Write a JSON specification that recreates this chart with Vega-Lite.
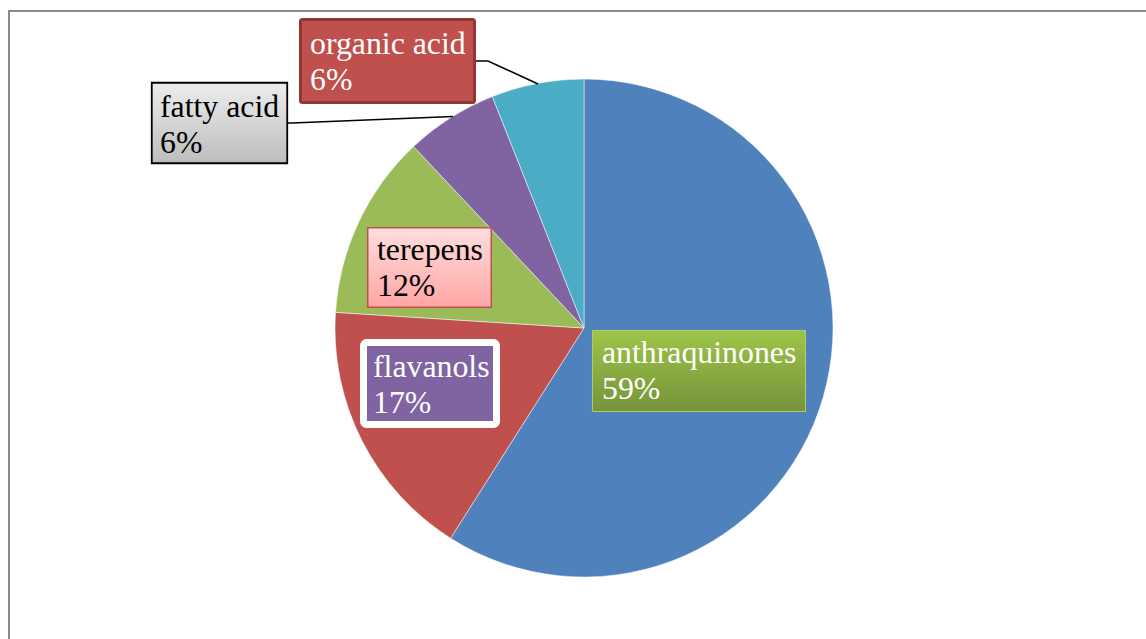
{
  "$schema": "https://vega.github.io/schema/vega-lite/v6.json",
  "width": 1150,
  "height": 634,
  "autosize": {"type": "none"},
  "padding": {"left": 9, "top": 11, "right": -13, "bottom": -6},
  "background": "white",
  "config": {"view": {"stroke": "#8a8a8a", "strokeWidth": 2}},
  "datasets": {
    "slices": [
      {"name": "anthraquinones", "share": 0.59, "ord": 1},
      {"name": "flavanols", "share": 0.17, "ord": 2},
      {"name": "terepens", "share": 0.12, "ord": 3},
      {"name": "fatty acid", "share": 0.06, "ord": 4},
      {"name": "organic acid", "share": 0.06, "ord": 5}
    ],
    "boxes": [
      {"name": "organic acid", "x0": -1.1386, "x1": -0.4398, "y0": 1.2390, "y1": 0.9056, "tx": -1.1004, "ty": 1.1004},
      {"name": "fatty acid", "x0": -1.7359, "x1": -1.1918, "y0": 0.9849, "y1": 0.6616, "tx": -1.7028, "ty": 0.8474},
      {"name": "terepens", "x0": -0.8685, "x1": -0.3725, "y0": 0.4026, "y1": 0.0833, "tx": -0.8313, "ty": 0.2731},
      {"name": "flavanols", "x0": -0.8855, "x1": -0.3514, "y0": -0.0582, "y1": -0.3876, "tx": -0.8474, "ty": -0.1968},
      {"name": "anthraquinones", "x0": 0.0341, "x1": 0.8896, "y0": -0.0100, "y1": -0.3353, "tx": 0.0723, "ty": -0.1406}
    ],
    "leaders": [
      {"name": "organic acid", "seq": 1, "lx": -0.4337, "ly": 1.0723},
      {"name": "organic acid", "seq": 2, "lx": -0.3855, "ly": 1.0723},
      {"name": "organic acid", "seq": 3, "lx": -0.1847, "ly": 0.9799},
      {"name": "fatty acid", "seq": 1, "lx": -1.1888, "ly": 0.8233},
      {"name": "fatty acid", "seq": 2, "lx": -1.1727, "ly": 0.8233},
      {"name": "fatty acid", "seq": 3, "lx": -0.5261, "ly": 0.8494}
    ]
  },
  "layer": [
    {
      "data": {"name": "slices"},
      "mark": {"type": "arc", "radius": 249, "stroke": "#ffffff", "strokeWidth": 0.7, "strokeOpacity": 0.7},
      "encoding": {
        "theta": {"field": "share", "type": "quantitative", "stack": true},
        "order": {"field": "ord", "type": "quantitative"},
        "color": {
          "field": "name", "type": "nominal", "legend": null,
          "scale": {
            "domain": ["anthraquinones", "flavanols", "terepens", "fatty acid", "organic acid"],
            "range": ["#4F81BD", "#C0504D", "#9BBB59", "#8064A2", "#4BACC6"]
          }
        }
      }
    },
    {
      "data": {"name": "leaders"},
      "mark": {"type": "line", "color": "#000000", "strokeWidth": 1.6},
      "encoding": {
        "x": {"field": "lx", "type": "quantitative", "axis": null, "scale": {"domain": [-2.3092, 2.3092], "nice": false, "zero": false}},
        "y": {"field": "ly", "type": "quantitative", "axis": null, "scale": {"domain": [-1.2731, 1.2731], "nice": false, "zero": false}},
        "detail": {"field": "name", "type": "nominal"},
        "order": {"field": "seq", "type": "quantitative"}
      }
    },
    {
      "data": {"name": "boxes"},
      "transform": [{"filter": "datum.name !== 'organic acid'"}],
      "mark": {"type": "rect", "fill": "#000000", "opacity": 0.12, "xOffset": 3, "yOffset": 4, "cornerRadius": 3},
      "encoding": {
        "x": {"field": "x0", "type": "quantitative", "axis": null, "scale": {"domain": [-2.3092, 2.3092], "nice": false, "zero": false}},
        "x2": {"field": "x1"},
        "y": {"field": "y0", "type": "quantitative", "axis": null, "scale": {"domain": [-1.2731, 1.2731], "nice": false, "zero": false}},
        "y2": {"field": "y1"}
      }
    },
    {
      "data": {"name": "boxes"},
      "transform": [{"filter": "datum.name !== 'organic acid'"}],
      "mark": {"type": "rect", "fill": "#000000", "opacity": 0.15, "xOffset": 1.5, "yOffset": 2, "cornerRadius": 2},
      "encoding": {
        "x": {"field": "x0", "type": "quantitative", "axis": null, "scale": {"domain": [-2.3092, 2.3092], "nice": false, "zero": false}},
        "x2": {"field": "x1"},
        "y": {"field": "y0", "type": "quantitative", "axis": null, "scale": {"domain": [-1.2731, 1.2731], "nice": false, "zero": false}},
        "y2": {"field": "y1"}
      }
    },
    {
      "data": {"name": "boxes"},
      "transform": [{"filter": "datum.name === 'organic acid'"}],
      "mark": {"type": "rect", "fill": "#C0504D", "stroke": "#943634", "strokeWidth": 3, "cornerRadius": 2},
      "encoding": {
        "x": {"field": "x0", "type": "quantitative", "axis": null, "scale": {"domain": [-2.3092, 2.3092], "nice": false, "zero": false}},
        "x2": {"field": "x1"},
        "y": {"field": "y0", "type": "quantitative", "axis": null, "scale": {"domain": [-1.2731, 1.2731], "nice": false, "zero": false}},
        "y2": {"field": "y1"}
      }
    },
    {
      "data": {"name": "boxes"},
      "transform": [{"filter": "datum.name === 'fatty acid'"}],
      "mark": {
        "type": "rect", "stroke": "#000000", "strokeWidth": 1.8,
        "fill": {"gradient": "linear", "x1": 0, "y1": 0, "x2": 0, "y2": 1,
          "stops": [{"offset": 0, "color": "#EDEDED"}, {"offset": 1, "color": "#BDBDBD"}]}
      },
      "encoding": {
        "x": {"field": "x0", "type": "quantitative", "axis": null, "scale": {"domain": [-2.3092, 2.3092], "nice": false, "zero": false}},
        "x2": {"field": "x1"},
        "y": {"field": "y0", "type": "quantitative", "axis": null, "scale": {"domain": [-1.2731, 1.2731], "nice": false, "zero": false}},
        "y2": {"field": "y1"}
      }
    },
    {
      "data": {"name": "boxes"},
      "transform": [{"filter": "datum.name === 'terepens'"}],
      "mark": {
        "type": "rect", "stroke": "#C0504D", "strokeWidth": 1.5,
        "fill": {"gradient": "linear", "x1": 0, "y1": 0, "x2": 0, "y2": 1,
          "stops": [{"offset": 0, "color": "#FFDEDE"}, {"offset": 1, "color": "#FFA5A5"}]}
      },
      "encoding": {
        "x": {"field": "x0", "type": "quantitative", "axis": null, "scale": {"domain": [-2.3092, 2.3092], "nice": false, "zero": false}},
        "x2": {"field": "x1"},
        "y": {"field": "y0", "type": "quantitative", "axis": null, "scale": {"domain": [-1.2731, 1.2731], "nice": false, "zero": false}},
        "y2": {"field": "y1"}
      }
    },
    {
      "data": {"name": "boxes"},
      "transform": [{"filter": "datum.name === 'flavanols'"}],
      "mark": {"type": "rect", "fill": "#8064A2", "stroke": "#ffffff", "strokeWidth": 7, "cornerRadius": 3},
      "encoding": {
        "x": {"field": "x0", "type": "quantitative", "axis": null, "scale": {"domain": [-2.3092, 2.3092], "nice": false, "zero": false}},
        "x2": {"field": "x1"},
        "y": {"field": "y0", "type": "quantitative", "axis": null, "scale": {"domain": [-1.2731, 1.2731], "nice": false, "zero": false}},
        "y2": {"field": "y1"}
      }
    },
    {
      "data": {"name": "boxes"},
      "transform": [{"filter": "datum.name === 'anthraquinones'"}],
      "mark": {
        "type": "rect", "stroke": "#AECF6A", "strokeWidth": 1,
        "fill": {"gradient": "linear", "x1": 0, "y1": 0, "x2": 0, "y2": 1,
          "stops": [{"offset": 0, "color": "#9DC548"}, {"offset": 1, "color": "#76933C"}]}
      },
      "encoding": {
        "x": {"field": "x0", "type": "quantitative", "axis": null, "scale": {"domain": [-2.3092, 2.3092], "nice": false, "zero": false}},
        "x2": {"field": "x1"},
        "y": {"field": "y0", "type": "quantitative", "axis": null, "scale": {"domain": [-1.2731, 1.2731], "nice": false, "zero": false}},
        "y2": {"field": "y1"}
      }
    },
    {
      "data": {"name": "boxes"},
      "mark": {"type": "text", "font": "Liberation Serif", "fontSize": 31.8, "align": "left", "baseline": "alphabetic"},
      "encoding": {
        "x": {"field": "tx", "type": "quantitative", "axis": null, "scale": {"domain": [-2.3092, 2.3092], "nice": false, "zero": false}},
        "y": {"field": "ty", "type": "quantitative", "axis": null, "scale": {"domain": [-1.2731, 1.2731], "nice": false, "zero": false}},
        "text": {"field": "name", "type": "nominal"},
        "color": {"condition": {"test": "datum.name === 'fatty acid' || datum.name === 'terepens'", "value": "#000000"}, "value": "#ffffff"}
      }
    },
    {
      "data": {"name": "boxes"},
      "transform": [{"lookup": "name", "from": {"data": {"name": "slices"}, "key": "name", "fields": ["share"]}}],
      "mark": {"type": "text", "font": "Liberation Serif", "fontSize": 31.8, "align": "left", "baseline": "alphabetic", "dy": 36},
      "encoding": {
        "x": {"field": "tx", "type": "quantitative", "axis": null, "scale": {"domain": [-2.3092, 2.3092], "nice": false, "zero": false}},
        "y": {"field": "ty", "type": "quantitative", "axis": null, "scale": {"domain": [-1.2731, 1.2731], "nice": false, "zero": false}},
        "text": {"field": "share", "type": "quantitative", "format": ".0%"},
        "color": {"condition": {"test": "datum.name === 'fatty acid' || datum.name === 'terepens'", "value": "#000000"}, "value": "#ffffff"}
      }
    }
  ]
}
